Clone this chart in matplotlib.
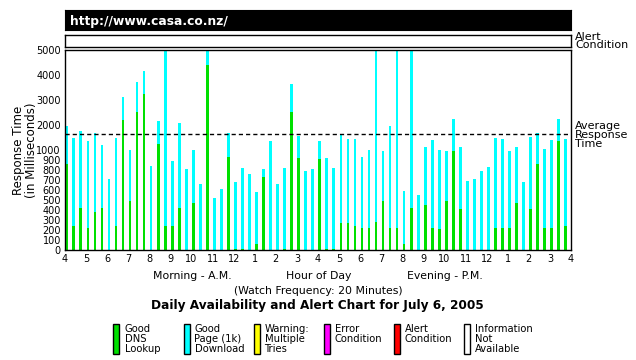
import matplotlib

matplotlib.use("Agg")
import matplotlib.pyplot as plt
import numpy as np
from matplotlib.patches import Rectangle

# response times, one bar every 20 minutes from 4 A.M.
total_ms = [
    1960, 1480, 1760, 1360, 1680, 1200, 710, 1480, 3120, 1010, 3720, 4160,
    840, 2160, 5000, 890, 2080, 810, 1010, 660, 5000, 520, 610, 1680,
    680, 820, 760, 580, 810, 1360, 660, 820, 3640, 1560, 790, 810,
    1360, 920, 820, 1600, 1440, 1440, 930, 1000, 5000, 990, 1960, 5000,
    590, 5000, 550, 1120, 1400, 1000, 990, 2240, 1120, 690, 710, 790,
    830, 1480, 1440, 990, 1120, 680, 1520, 1680, 1040, 1400, 2240, 1440,
]
dns_ms = [
    863, 240, 420, 220, 380, 420, 0, 240, 2200, 490, 2520, 3240,
    0, 1240, 240, 240, 420, 0, 470, 0, 4400, 0, 0, 930,
    10, 10, 0, 60, 730, 0, 0, 10, 2520, 920, 0, 0,
    910, 10, 10, 270, 270, 240, 220, 220, 280, 490, 220, 220,
    60, 420, 0, 450, 220, 210, 490, 990, 410, 0, 0, 0,
    0, 220, 220, 220, 470, 0, 410, 860, 220, 220, 1360, 240,
]
average_ms = 1630
hour_labels = ["4", "5", "6", "7", "8", "9", "10", "11", "12", "1", "2", "3",
               "4", "5", "6", "7", "8", "9", "10", "11", "12", "1", "2", "3", "4"]
y_ticks = [0, 100, 200, 300, 400, 500, 600, 700, 800, 900, 1000, 2000, 3000, 4000, 5000]
legend_labels = ["Good\nDNS\nLookup", "Good\nPage (1k)\nDownload", "Warning:\nMultiple\nTries",
                 "Error\nCondition", "Alert\nCondition", "Information\nNot\nAvailable"]
legend_colors = ["#00e000", "#00ffff", "#ffff00", "#ff00ff", "#ff0000", "#ffffff"]

GREEN = "#00e000"
CYAN = "#00ffff"
W, H = 636, 360


def box(x0, y0, x1, y1):
    # pixel box (top-left origin) -> figure fraction rect
    return [x0 / W, 1 - y1 / H, (x1 - x0) / W, (y1 - y0) / H]


def squash(v):
    # 0-1000 ms linear, above 1000 ms compressed 4x (broken scale of the chart)
    v = np.asarray(v, dtype=float)
    return np.where(v <= 1000, v, 1000 + (v - 1000) / 4.0)


fig = plt.figure(figsize=(6.36, 3.6), dpi=100)
fig.patch.set_facecolor("white")

ax = fig.add_axes(box(65, 50, 571, 250))
x = 4 + np.arange(len(total_ms)) / 3.0
top = squash(total_ms)
low = squash(dns_ms)
ax.bar(x + 0.02, top - low, bottom=low, width=0.13, align="edge", color=CYAN, linewidth=0)
ax.bar(x + 0.02, low, width=0.13, align="edge", color=GREEN, linewidth=0)
ax.axhline(squash(average_ms), color="black", linewidth=1.0, linestyle=(0, (3, 2.2)))
ax.set_xlim(4, 28)
ax.set_ylim(0, 2000)
ax.set_xticks(np.arange(4, 29))
ax.set_xticklabels(hour_labels, fontsize=7)
ax.set_yticks(squash(y_ticks))
ax.set_yticklabels([str(t) for t in y_ticks], fontsize=7)
ax.tick_params(axis="both", length=0, pad=3)
for s in ax.spines.values():
    s.set_linewidth(1.0)

# header bar
head = fig.add_axes(box(65, 10, 571, 30))
head.set_facecolor("black")
head.set_xticks([])
head.set_yticks([])
head.text(0.01, 0.45, "http://www.casa.co.nz/", color="white", fontsize=8.8,
          fontweight="bold", ha="left", va="center", transform=head.transAxes)

# alert condition strip
alert = fig.add_axes(box(65, 35, 571, 46.5))
alert.set_facecolor("white")
alert.set_xticks([])
alert.set_yticks([])
for s in alert.spines.values():
    s.set_linewidth(1.0)

fig.text(25 / W, 1 - 150 / H, "Response Time\n(in Milliseconds)", rotation=90,
         ha="center", va="center", multialignment="center", fontsize=8.5, linespacing=1.05)
fig.text(575 / W, 1 - 41 / H, "Alert\nCondition", ha="left", va="center",
         fontsize=8, linespacing=0.85)
fig.text(575 / W, 1 - 135 / H, "Average\nResponse\nTime", ha="left", va="center",
         fontsize=8, linespacing=0.9)

fig.text(192 / W, 1 - 276 / H, "Morning - A.M.", ha="center", va="center", fontsize=7.8)
fig.text(319 / W, 1 - 276 / H, "Hour of Day", ha="center", va="center", fontsize=7.8)
fig.text(445 / W, 1 - 276 / H, "Evening - P.M.", ha="center", va="center", fontsize=7.8)
fig.text(318 / W, 1 - 291 / H, "(Watch Frequency: 20 Minutes)", ha="center", va="center", fontsize=7.8)
fig.text(317 / W, 1 - 306 / H, "Daily Availability and Alert Chart for July 6, 2005",
         ha="center", va="center", fontsize=8.7, fontweight="bold")

for i, (lab, col) in enumerate(zip(legend_labels, legend_colors)):
    bx = 113.5 + i * 70
    fig.patches.append(Rectangle((bx / W, 1 - 354 / H), 6 / W, 30 / H, transform=fig.transFigure,
                                 facecolor=col, edgecolor="black", linewidth=1.0))
    fig.text((bx + 11) / W, 1 - 324 / H, lab, ha="left", va="top", fontsize=7.2, linespacing=1.0)

fig.savefig("out.png", dpi=100)
